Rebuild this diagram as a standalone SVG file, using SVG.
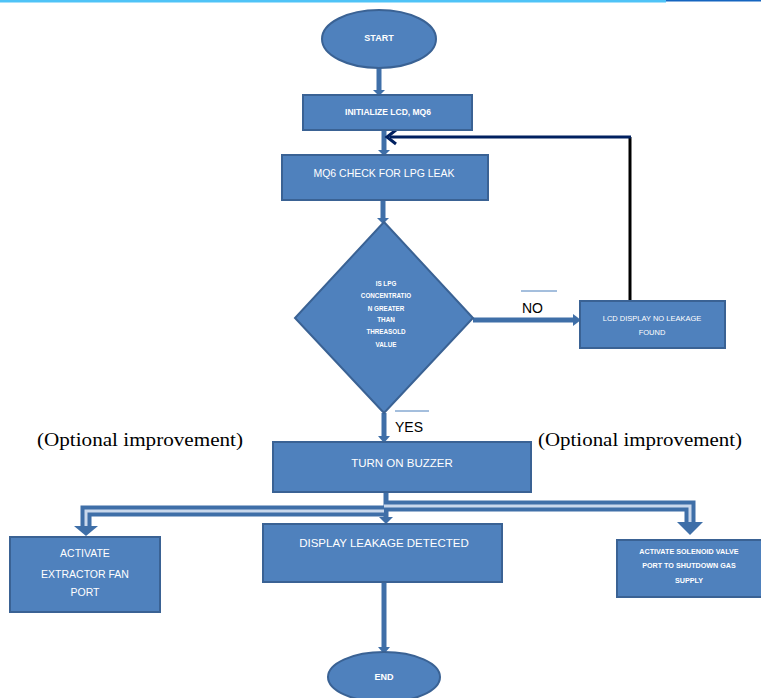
<svg xmlns="http://www.w3.org/2000/svg" width="761" height="698" viewBox="0 0 761 698">
<defs>
<style>
.box{fill:#4f81bd;stroke:#3a6294;stroke-width:2}
.t{fill:#ffffff;font-family:"Liberation Sans",Arial,sans-serif;text-anchor:middle}
.lbl{fill:#000000;font-family:"Liberation Sans",Arial,sans-serif;font-size:14px}
.opt{fill:#000000;font-family:"Liberation Serif","Times New Roman",serif;font-size:19.5px}
.stem{stroke:#3f6fa8;stroke-width:5;fill:none}
.ah{fill:#3f6fa8}
.ov{stroke:#4a7ebb;stroke-width:1}
</style>
</defs>
<rect x="0" y="0" width="761" height="698" fill="#ffffff"/>
<rect x="0" y="0" width="666" height="2.5" fill="#4fc3f7"/>
<rect x="666" y="0" width="95" height="1.5" fill="#1565c0"/>

<g id="connectors">
  <path class="stem" d="M379 68 V92"/>
  <polygon class="ah" points="373,90 385,90 379,96"/>
  <path class="stem" d="M384 130 V152"/>
  <polygon class="ah" points="378,150 390,150 384,156"/>
  <path class="stem" d="M383 200 V220"/>
  <polygon class="ah" points="377,218 389,218 383,224"/>
  <path d="M630 301 V137" stroke="#000000" stroke-width="3" fill="none"/>
  <path d="M631 137 H390" stroke="#002060" stroke-width="3" fill="none"/>
  <polyline points="396,130 387,137 396,144" stroke="#002060" stroke-width="3" fill="none"/>
  <path class="stem" d="M473 320 H575"/>
  <polygon class="ah" points="573,314 581,320 573,326"/>
  <line class="ov" x1="521" y1="291" x2="557" y2="291"/>
  <path class="stem" d="M384 413 V438"/>
  <polygon class="ah" points="378,436 390,436 384,443"/>
  <line class="ov" x1="395" y1="411" x2="429" y2="411"/>
  <path class="stem" d="M386 492 V519"/>
  <polygon class="ah" points="379,517 393,517 386,524"/>
  <g id="branch-left">
    <path d="M384 511 H86 V528" stroke="#3f6fa8" stroke-width="11" fill="none"/>
    <path d="M384 511 H86 V528" stroke="#c9d8ec" stroke-width="3" fill="none"/>
    <polygon points="74,526 98,526 86,536" fill="#3f6fa8"/>
  </g>
  <g id="branch-right">
    <path d="M384 506 H690 V524" stroke="#3f6fa8" stroke-width="11" fill="none"/>
    <path d="M384 506 H690 V524" stroke="#c9d8ec" stroke-width="3" fill="none"/>
    <polygon points="677,522 703,522 690,535" fill="#3f6fa8"/>
  </g>
  <path class="stem" d="M384 582 V649"/>
  <polygon class="ah" points="378,647 390,647 384,654"/>
</g>

<g id="start">
  <ellipse class="box" cx="379" cy="39" rx="57" ry="29"/>
  <text class="t" x="379" y="41" font-size="9" font-weight="bold">START</text>
</g>
<g id="init">
  <rect class="box" x="303" y="95" width="169" height="35"/>
  <text class="t" x="388" y="115" font-size="8.5" font-weight="bold">INITIALIZE LCD, MQ6</text>
</g>
<g id="check">
  <rect class="box" x="282" y="155" width="206" height="45"/>
  <text class="t" x="384" y="177" font-size="10.5">MQ6 CHECK FOR LPG LEAK</text>
</g>
<g id="decision">
  <polygon class="box" points="384,222 473,318 384,413 295,318"/>
  <g class="t" font-size="6.3" font-weight="bold">
    <text x="386" y="286">IS LPG</text>
    <text x="386" y="298">CONCENTRATIO</text>
    <text x="386" y="311">N GREATER</text>
    <text x="386" y="322">THAN</text>
    <text x="386" y="334">THREASOLD</text>
    <text x="386" y="347">VALUE</text>
  </g>
</g>
<text class="lbl" x="522" y="313">NO</text>
<text class="lbl" x="395" y="432">YES</text>
<g id="no-leak">
  <rect class="box" x="580" y="301" width="145" height="47"/>
  <text class="t" x="652" y="321" font-size="7.5">LCD DISPLAY NO LEAKAGE</text>
  <text class="t" x="652" y="335" font-size="7.5">FOUND</text>
</g>
<text class="opt" x="37" y="446" textLength="206" lengthAdjust="spacingAndGlyphs">(Optional improvement)</text>
<text class="opt" x="538" y="446" textLength="204" lengthAdjust="spacingAndGlyphs">(Optional improvement)</text>
<g id="buzzer">
  <rect class="box" x="273" y="442" width="258" height="50"/>
  <text class="t" x="402" y="467" font-size="11.5">TURN ON BUZZER</text>
</g>
<g id="display">
  <rect class="box" x="263" y="524" width="239" height="58"/>
  <text class="t" x="384" y="547" font-size="11.5">DISPLAY LEAKAGE DETECTED</text>
</g>
<g id="fan">
  <rect class="box" x="10" y="537" width="150" height="75"/>
  <text class="t" x="85" y="557" font-size="10.5">ACTIVATE</text>
  <text class="t" x="85" y="578" font-size="10.5">EXTRACTOR FAN</text>
  <text class="t" x="85" y="596" font-size="10.5">PORT</text>
</g>
<g id="solenoid">
  <rect class="box" x="617" y="540" width="150" height="57"/>
  <text class="t" x="689" y="554" font-size="7.2" font-weight="bold">ACTIVATE SOLENOID VALVE</text>
  <text class="t" x="689" y="568" font-size="7.2" font-weight="bold">PORT TO SHUTDOWN GAS</text>
  <text class="t" x="689" y="583" font-size="7.2" font-weight="bold">SUPPLY</text>
</g>
<g id="end">
  <ellipse class="box" cx="384" cy="677" rx="56" ry="25"/>
  <text class="t" x="384" y="680" font-size="9" font-weight="bold">END</text>
</g>
</svg>
